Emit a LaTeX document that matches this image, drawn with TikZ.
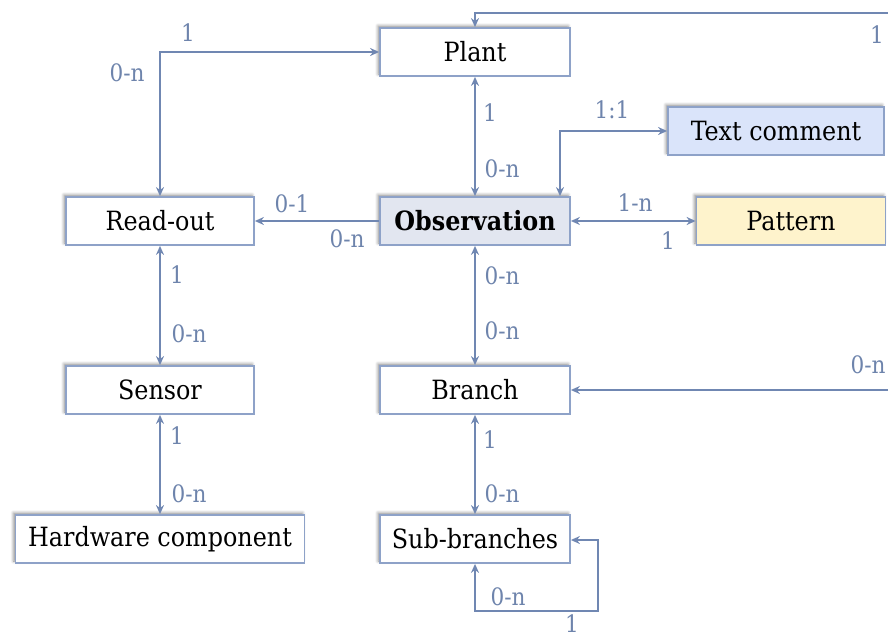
\documentclass[tikz,border=0pt]{standalone}
\usepackage{fontspec}
\setmainfont{DejaVu Serif Condensed}
\usetikzlibrary{arrows.meta,shadows.blur}

\definecolor{linkblue}{RGB}{112,135,178}
\definecolor{labelblue}{RGB}{110,132,172}
\definecolor{boxedge}{RGB}{142,162,200}
\definecolor{obsfill}{RGB}{226,230,240}
\definecolor{commentfill}{RGB}{218,228,250}
\definecolor{patternfill}{RGB}{254,243,204}

\tikzset{
  entity/.style={draw=boxedge, line width=1.8pt, fill=white,
    minimum height=48pt, inner sep=0pt, font=\fontsize{26.5}{30}\selectfont,
    blur shadow={shadow xshift=-2pt, shadow yshift=2pt, shadow blur radius=3pt, shadow opacity=45}},
  link/.style={draw=linkblue, line width=2pt,
    {Stealth[length=9pt,width=8pt]}-{Stealth[length=9pt,width=8pt]}},
  linkto/.style={draw=linkblue, line width=2pt, -{Stealth[length=9pt,width=8pt]}},
  card/.style={text=labelblue, font=\fontsize{24}{28}\selectfont, inner sep=0pt}
}

\begin{document}
\begin{tikzpicture}[x=1pt,y=-1pt]
\useasboundingbox (0,0) rectangle (888,637);

% entities
\node[entity, minimum width=190pt] (plant) at (475,52) {Plant};
\node[entity, minimum width=216pt, fill=commentfill] (comment) at (776,131) {Text comment};
\node[entity, minimum width=188pt] (readout) at (160,221) {Read-out};
\node[entity, minimum width=190pt, fill=obsfill] (obs) at (475,221) {\bfseries Observation};
\node[entity, minimum width=189pt, fill=patternfill] (pattern) at (791,221) {Pattern};
\node[entity, minimum width=188pt] (sensor) at (160,390) {Sensor};
\node[entity, minimum width=190pt] (branch) at (475,390) {Branch};
\node[entity, minimum width=289pt] (hw) at (160,539) {Hardware component};
\node[entity, minimum width=190pt] (sub) at (475,539) {Sub-branches};

% free ends running off the right edge
\coordinate (topfar) at (892,13);
\coordinate (branchfar) at (892,390);
\coordinate (loopa) at (475,611);
\coordinate (loopb) at (598,611);
\coordinate (loopc) at (598,540);

% connectors
\draw[link] (plant.south) -- (obs.north);
\draw[linkto] (topfar) -| (plant.north);
\draw[link] (readout.north) |- (plant.west);
\draw[linkto] (obs.west) -- (readout.east);
\draw[link] (comment.west) -| ([xshift=85pt]obs.north);
\draw[link] (obs.east) -- (pattern.west);
\draw[link] (obs.south) -- (branch.north);
\draw[link] (readout.south) -- (sensor.north);
\draw[link] (sensor.south) -- (hw.north);
\draw[link] (branch.south) -- (sub.north);
\draw[link] (sub.south) -- (loopa) -- (loopb) -- (loopc) -- (sub.east |- loopc);
\draw[linkto] (branchfar) -- (branch.east);

% cardinalities
\node[card] at (877,35) {1};
\node[card] at (490,113) {1};
\node[card] at (502,169) {0-n};
\node[card] at (188,33) {1};
\node[card] at (127,73) {0-n};
\node[card] at (292,204) {0-1};
\node[card] at (347,239) {0-n};
\node[card] at (612,110) {1:1};
\node[card] at (635,203) {1-n};
\node[card] at (668,241) {1};
\node[card] at (502,276) {0-n};
\node[card] at (502,331) {0-n};
\node[card] at (177,275) {1};
\node[card] at (189,334) {0-n};
\node[card] at (868,365) {0-n};
\node[card] at (177,436) {1};
\node[card] at (189,494) {0-n};
\node[card] at (490,440) {1};
\node[card] at (502,494) {0-n};
\node[card] at (508,597) {0-n};
\node[card] at (572,624) {1};
\end{tikzpicture}
\end{document}
